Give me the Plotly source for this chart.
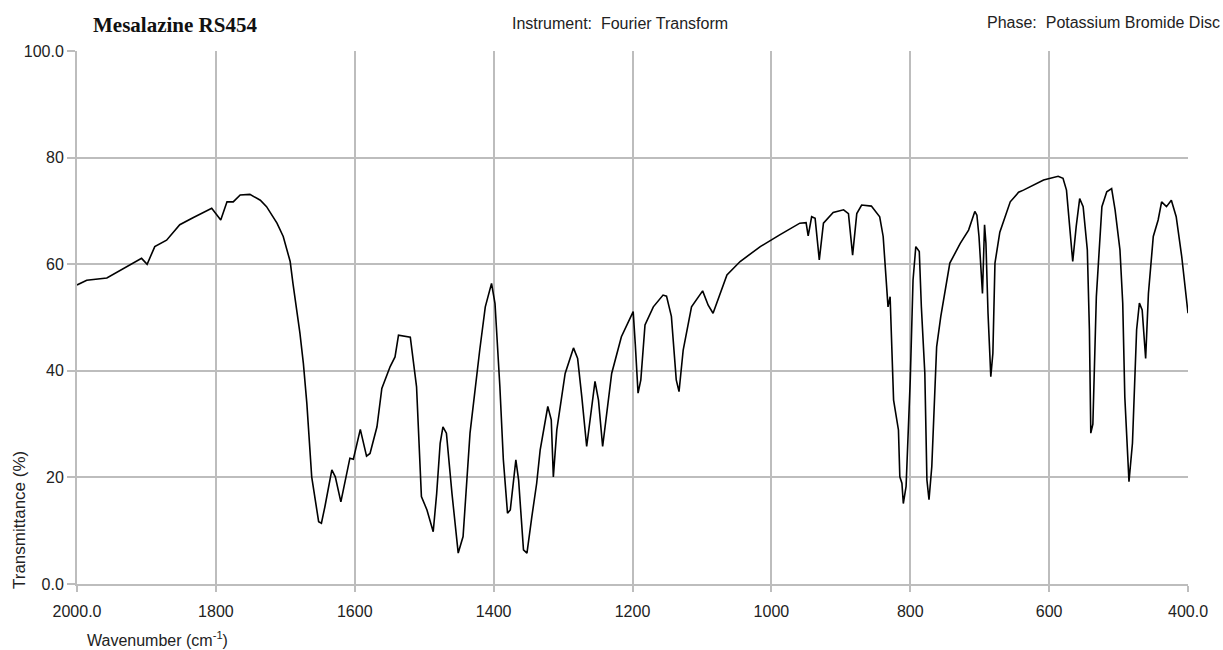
import plotly.graph_objects as go

wavenumber = [
    2000, 1986, 1957, 1928, 1907, 1899, 1888, 1871, 1852, 1833, 1806, 1793, 1784, 1775,
    1765, 1751, 1736, 1727, 1712, 1703, 1693, 1689, 1679, 1674, 1669, 1662, 1652, 1648,
    1643, 1633, 1628, 1620, 1607, 1602, 1592, 1583, 1578, 1568, 1561, 1549, 1542, 1537,
    1520, 1511, 1504, 1496, 1487, 1482, 1477, 1473, 1468, 1460, 1451, 1444, 1434, 1420,
    1412, 1403, 1398, 1391, 1386, 1380, 1376, 1368, 1364, 1357, 1352, 1345, 1338, 1333,
    1322, 1317, 1314, 1309, 1297, 1285, 1279, 1273, 1266, 1254, 1249, 1243, 1230, 1216,
    1199, 1196, 1192, 1188, 1182, 1170, 1156, 1151, 1144, 1137, 1133, 1127, 1115, 1099,
    1091, 1084, 1074, 1064, 1045, 1016, 988, 959, 950, 947, 942, 937, 931, 925, 911, 896,
    889, 883, 877, 870, 856, 844, 839, 836, 832, 829, 827, 824, 817, 815, 812, 810, 806,
    800, 796, 792, 787, 784, 779, 776, 773, 769, 762, 756, 743, 728, 716, 707, 704, 701,
    696, 693, 691, 688, 684, 681, 678, 671, 656, 644, 637, 608, 587, 580, 575, 570, 566,
    561, 556, 551, 545, 542, 540, 537, 532, 524, 517, 510, 505, 498, 494, 491, 485, 480,
    474, 470, 466, 461, 457, 450, 443, 438, 431, 424, 417, 409, 405, 400,
]
transmittance = [
    56.1, 57.0, 57.4, 59.5, 61.1, 60.0, 63.3, 64.5, 67.4, 68.7, 70.5, 68.3, 71.7, 71.7,
    73.0, 73.1, 72.0, 70.8, 67.7, 65.2, 60.5, 56.4, 47.1, 41.4, 33.9, 20.1, 11.7, 11.4,
    14.5, 21.4, 20.1, 15.4, 23.6, 23.4, 29.0, 24.0, 24.5, 29.5, 36.7, 40.8, 42.6, 46.7,
    46.3, 37.0, 16.4, 13.9, 9.8, 17.0, 26.4, 29.5, 28.3, 17.0, 5.8, 8.9, 28.3, 43.9,
    52.0, 56.4, 52.6, 37.0, 23.3, 13.3, 13.9, 23.3, 19.5, 6.4, 5.8, 12.6, 18.9, 25.1,
    33.3, 30.8, 20.1, 28.9, 39.5, 44.3, 42.3, 35.1, 25.8, 38.0, 34.5, 25.8, 39.5, 46.4,
    51.1, 45.0, 35.8, 38.3, 48.6, 52.0, 54.2, 54.0, 50.2, 38.3, 36.1, 43.9, 52.0, 55.0,
    52.3, 50.8, 54.5, 58.0, 60.5, 63.3, 65.5, 67.7, 67.8, 65.3, 68.9, 68.6, 60.8, 67.7, 69.7, 70.2,
    69.5, 61.7, 69.5, 71.1, 70.9, 68.9, 65.2, 60.2, 52.0, 53.9, 46.4, 34.5, 28.9, 20.1, 18.9, 15.1, 18.3,
    38.3, 57.0, 63.3, 62.4, 52.0, 39.5, 19.5, 15.8, 22.0, 44.5, 50.2, 60.2, 63.9, 66.4, 69.9, 69.2, 65.2,
    54.5, 67.4, 63.9, 50.8, 38.9, 43.3, 60.2, 66.0, 71.7, 73.5, 73.9, 75.8, 76.5, 76.1, 73.9, 66.4, 60.5,
    67.1, 72.3, 70.8, 62.7, 47.7, 28.3, 30.0, 53.9, 70.8, 73.6, 74.2, 70.2, 62.7, 52.7, 35.1, 19.2, 26.4,
    47.7, 52.7, 51.4, 42.3, 54.5, 65.2, 68.3, 71.7, 70.8, 72.0, 68.9, 61.4, 56.4, 50.8,
]

x_tick_vals = [2000, 1800, 1600, 1400, 1200, 1000, 800, 600, 400]
x_tick_text = ["2000.0", "1800", "1600", "1400", "1200", "1000", "800", "600", "400.0"]
y_tick_vals = [0, 20, 40, 60, 80, 100]
y_tick_text = ["0.0", "20", "40", "60", "80", "100.0"]

title_text = "Mesalazine RS454"
instrument_text = "Instrument:  Fourier Transform"
phase_text = "Phase:  Potassium Bromide Disc"
x_title = "Wavenumber (cm<sup>-1</sup>)"
y_title = "Transmittance (%)"

font_sans = "Liberation Sans, Arial, sans-serif"
grid_col = "#bdbdbd"

fig = go.Figure()
fig.add_trace(go.Scatter(
    x=wavenumber, y=transmittance, mode="lines",
    line=dict(color="black", width=1.6), showlegend=False, hoverinfo="x+y",
))

fig.update_layout(
    width=1223, height=650,
    margin=dict(l=77, r=35, t=51, b=66),
    paper_bgcolor="white", plot_bgcolor="white",
    font=dict(family=font_sans, size=16, color="#222"),
    xaxis=dict(
        range=[2000, 400], tickvals=x_tick_vals, ticktext=x_tick_text,
        showgrid=True, gridcolor=grid_col, gridwidth=1.5,
        showline=True, linecolor=grid_col, linewidth=2,
        ticks="outside", ticklen=6, tickcolor=grid_col, tickwidth=1.5,
        ticklabelstandoff=6, zeroline=False,
        tickfont=dict(family=font_sans, size=16, color="#222"),
    ),
    yaxis=dict(
        range=[0, 100], tickvals=y_tick_vals, ticktext=y_tick_text,
        showgrid=True, gridcolor=grid_col, gridwidth=1.5,
        showline=True, linecolor=grid_col, linewidth=2,
        ticks="outside", ticklen=8, tickcolor=grid_col, tickwidth=1.5,
        zeroline=False,
        tickfont=dict(family=font_sans, size=16, color="#222"),
    ),
    annotations=[
        dict(text="<b>" + title_text + "</b>", xref="paper", yref="paper",
             x=0.0125, y=1.049, xanchor="left", yanchor="middle", showarrow=False,
             font=dict(family="Liberation Serif, Times New Roman, serif", size=21, color="#111")),
        dict(text=instrument_text, xref="paper", yref="paper",
             x=(620 - 77) / 1111, y=(584 - 24) / 533, xanchor="center", yanchor="middle",
             showarrow=False, font=dict(family=font_sans, size=16, color="#222")),
        dict(text=phase_text, xref="paper", yref="paper",
             x=(1222 - 77) / 1111, y=(584 - 22) / 533, xanchor="right", yanchor="middle",
             showarrow=False, font=dict(family=font_sans, size=16, color="#222")),
        dict(text=x_title, xref="paper", yref="paper",
             x=(85 - 77) / 1111, y=(584 - 627) / 533, xanchor="left", yanchor="top",
             showarrow=False, font=dict(family=font_sans, size=16, color="#222")),
        dict(text=y_title, xref="paper", yref="paper", textangle=-90,
             x=(19 - 77) / 1111, y=(584 - 520) / 533, xanchor="center", yanchor="middle",
             showarrow=False, font=dict(family=font_sans, size=17, color="#222")),
    ],
)

fig.write_html("out.html")
